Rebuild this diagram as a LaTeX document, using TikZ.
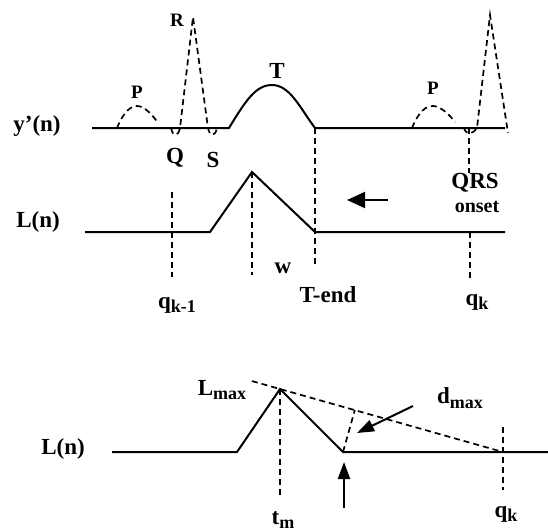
\documentclass[tikz,border=0pt]{standalone}
\usepackage{fontspec}
\setmainfont{Liberation Serif}
\usetikzlibrary{arrows.meta,calc}
\newcommand{\lowidx}[1]{\raisebox{-0.4ex}{\fontsize{18}{18}\selectfont #1}}
\tikzset{
  sig/.style={line width=2pt,line join=miter},
  guide/.style={line width=1.7pt,dash pattern=on 6pt off 4pt},
  lbl/.style={font=\bfseries\fontsize{23}{25}\selectfont,inner sep=0pt},
  smalllbl/.style={font=\bfseries\fontsize{19}{21}\selectfont,inner sep=0pt},
  pointer/.style={line width=2pt,-{Triangle[length=17pt,width=12pt]}},
}

\begin{document}
\begin{tikzpicture}[x=1pt,y=-1pt]
        \useasboundingbox (0,0) rectangle (548,531);
        % y'(n)
        \node[lbl] (yn) at (37,126) {y'(n)};
        \coordinate (tstart) at (229,128);
        \coordinate (tend) at (315,128);
        \coordinate (qon) at (469,128);
        \draw[sig] (92,128) -- (tstart)
          .. controls (246,100) and (256,85) .. (272,85)
          .. controls (290,85) and (300,108) .. (tend) -- (505,128);
        \draw[guide] (117,128) .. controls (124,111) and (131,106) .. (137,106)
          .. controls (144,106) and (152,114) .. (158,123);
        \draw[guide] (412,128) .. controls (419,111) and (426,106) .. (433,106)
          .. controls (440,106) and (449,114) .. (455,122);
        \draw[guide] (171,128) .. controls (173,137) and (178,137) .. (180,128)
          -- (193,17) -- (208,128) .. controls (210,137) and (215,137) .. (217,128);
        \draw[guide] (464,128) .. controls (466,135) and (472,135) .. (477,128)
          -- (490,15) -- (508,133);
        \node[smalllbl] (p1) at (137,92) {P};
        \node[smalllbl] (r1) at (177,20) {R};
        \node[lbl] (q1) at (175,158) {Q};
        \node[lbl] (s1) at (213,160) {S};
        \node[lbl] (t1) at (277,71) {T};
        \node[smalllbl] (p2) at (433,88) {P};

        % L(n), middle
        \node[lbl] (ln1) at (38,222) {L(n)};
        \coordinate (lpeak) at (252,172);
        \coordinate (lfoot) at (315,232);
        \draw[sig] (85,232) -- (210,232) -- (lpeak) -- (lfoot) -- (505,232);
        \node[lbl] (qrs) at (475,183) {QRS};
        \node[font=\bfseries\fontsize{20}{22}\selectfont,inner sep=0pt] (onset) at (477,207) {onset};
        \node[lbl] (qkm) at (177,305) {q\lowidx{k-1}};
        \node[lbl] (w) at (283,268) {w};
        \node[lbl] (tendl) at (328,295) {T-end};
        \node[lbl] (qk1) at (477,302) {q\lowidx{k}};
        \draw[guide] (172,192) -- (172,277);
        \draw[guide] (lpeak) -- (252,275);
        \draw[guide] (tend) -- (315,265);
        \draw[guide] (qon) -- (qrs.north -| qon);
        \draw[guide] (470,232) -- (470,278);
        \coordinate (arrs) at (388,200);
        \coordinate (arre) at (347,200);
        \draw[line width=2pt,-{Triangle[length=18pt,width=16pt]}] (arrs) -- (arre);

        % L(n), bottom
        \node[lbl] (ln2) at (63,449) {L(n)};
        \coordinate (lmax) at (280,389);
        \coordinate (foot) at (343,452);
        \coordinate (qk) at (503,452);
        \draw[sig] (112,452) -- (237,452) -- (lmax) -- (foot) -- (548,452);
        \draw[guide] ($(lmax)!-0.126!(qk)$) -- (qk);
        \draw[guide] (foot) -- ($(lmax)!(foot)!(qk)$);
        \draw[guide] (lmax) -- (280,497);
        \draw[guide] (503,427) -- (503,490);
        \node[lbl] (lmaxl) at (222,390) {L\lowidx{max}};
        \node[lbl] (dmax) at (460,398) {d\lowidx{max}};
        \node[lbl] (tm) at (283,520) {t\lowidx{m}};
        \node[lbl] (qk2) at (506,514) {q\lowidx{k}};
        \coordinate (dptr) at (413,406);
        \coordinate (dtip) at (357,433);
        \coordinate (uptr) at (344,508);
        \coordinate (utip) at (344,462);
        \draw[pointer] (dptr) -- (dtip);
        \draw[pointer] (uptr) -- (utip);
      \end{tikzpicture}
\end{document}
